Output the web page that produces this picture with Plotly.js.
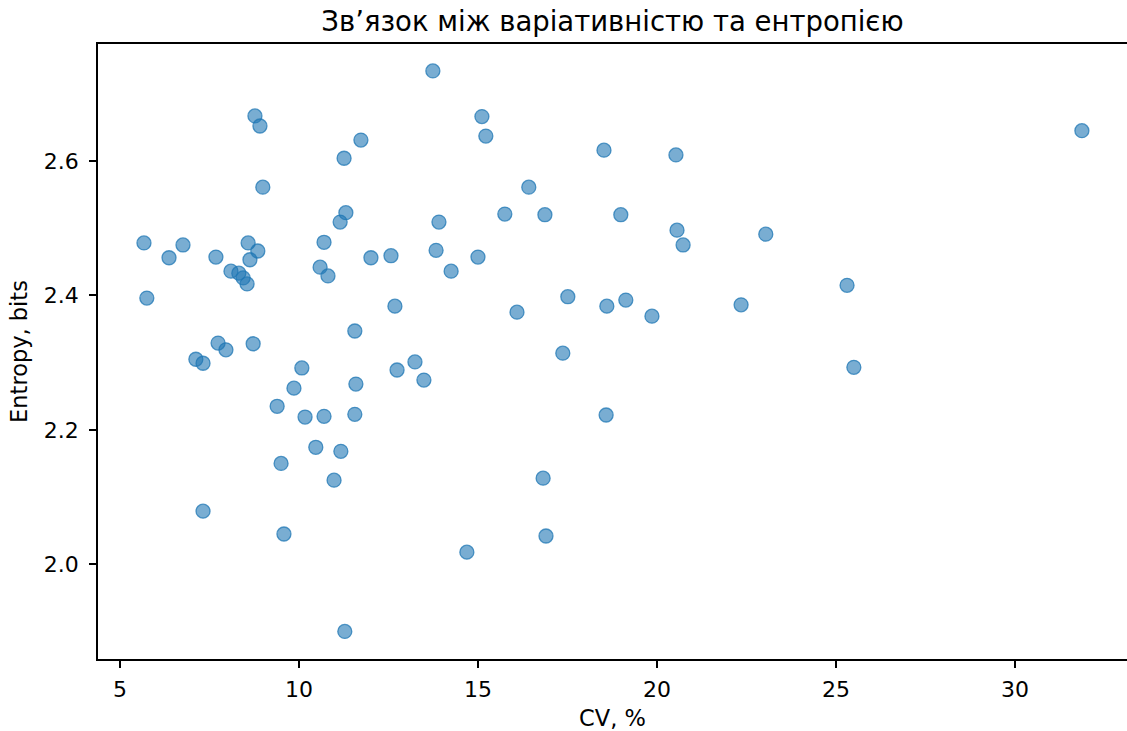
<!DOCTYPE html>
<html>
<head>
<meta charset="utf-8">
<script src="https://cdn.plot.ly/plotly-3.0.1.min.js"></script>
<style>html,body{margin:0;padding:0;background:#fff;}#chart{width:1127px;height:731px;}</style>
</head>
<body>
<div id="chart"></div>
<script>
const cv = [5.67,5.75,6.37,6.76,7.12,7.32,7.32,7.68,7.74,7.96,8.10,8.32,8.44,8.55,8.58,8.63,8.72,8.77,8.85,8.91,8.99,9.39,9.50,9.58,9.86,10.08,10.17,10.47,10.59,10.70,10.70,10.81,10.98,11.15,11.17,11.26,11.28,11.31,11.56,11.56,11.59,11.73,12.01,12.57,12.68,12.74,13.24,13.49,13.74,13.83,13.91,14.25,14.69,15.00,15.11,15.22,15.75,16.09,16.42,16.82,16.87,16.90,17.37,17.51,18.52,18.58,18.60,18.99,19.13,19.86,20.53,20.56,20.73,22.35,23.04,25.31,25.50,31.87];
const entropy = [2.478,2.396,2.456,2.475,2.305,2.299,2.079,2.457,2.329,2.319,2.436,2.433,2.426,2.417,2.478,2.453,2.328,2.667,2.466,2.652,2.561,2.235,2.150,2.045,2.262,2.292,2.219,2.174,2.442,2.479,2.220,2.429,2.125,2.509,2.168,2.604,1.900,2.523,2.347,2.223,2.268,2.631,2.456,2.459,2.384,2.289,2.301,2.274,2.734,2.467,2.509,2.436,2.018,2.457,2.666,2.637,2.521,2.375,2.561,2.128,2.520,2.042,2.314,2.398,2.616,2.222,2.384,2.520,2.393,2.369,2.609,2.497,2.475,2.386,2.491,2.415,2.293,2.645];
const xTicks = [5,10,15,20,25,30];
const yTicks = [2.0,2.2,2.4,2.6];

const font = {family: 'DejaVu Sans', color: '#000'};
Plotly.newPlot('chart', [{
  x: cv, y: entropy, type: 'scatter', mode: 'markers',
  marker: {size: 14, color: 'rgba(31,119,180,0.6)', line: {color: 'rgba(31,119,180,0.75)', width: 1.3}},
  hoverinfo: 'x+y'
}], {
  width: 1127, height: 731,
  paper_bgcolor: '#fff', plot_bgcolor: '#fff',
  margin: {l: 98, r: 0, t: 44, b: 72},
  showlegend: false,
  font: Object.assign({size: 22}, font),
  title: {text: 'Зв’язок між варіативністю та ентропією', font: Object.assign({size: 27.5}, font), x: 0.5, xanchor: 'center', y: 0.971, yanchor: 'middle', xref: 'paper'},
  xaxis: {
    range: [4.386, 33.13], tickvals: xTicks, ticktext: xTicks.map(String),
    showgrid: false, zeroline: false, showline: true, linecolor: '#000', linewidth: 1.6, mirror: true,
    ticks: 'outside', ticklen: 7, tickwidth: 1.6, tickcolor: '#000', ticklabelstandoff: 3,
    tickfont: Object.assign({size: 22}, font),
    title: {text: 'CV, %', font: Object.assign({size: 22.5}, font), standoff: 9}
  },
  yaxis: {
    range: [1.859, 2.774], tickvals: yTicks, ticktext: yTicks.map(v => v.toFixed(1)),
    showgrid: false, zeroline: false, showline: true, linecolor: '#000', linewidth: 1.6, mirror: false,
    ticks: 'outside', ticklen: 7, tickwidth: 1.6, tickcolor: '#000', ticklabelstandoff: 6,
    tickfont: Object.assign({size: 22}, font),
    title: {text: 'Entropy, bits', font: Object.assign({size: 22.5}, font), standoff: 10}
  }
}, {displayModeBar: false});
</script>
</body>
</html>
